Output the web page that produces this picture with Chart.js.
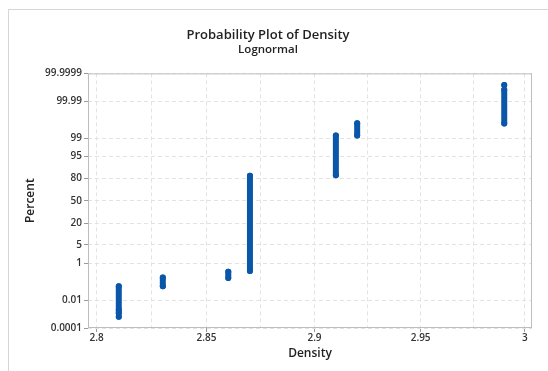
<!DOCTYPE html>
<html>
<head>
<meta charset="utf-8">
<script src="https://cdn.jsdelivr.net/npm/chart.js@4"></script>
<style>
  body { margin: 0; background: #fff; }
  #frame { position: absolute; left: 8px; top: 9px; width: 620px; height: 420px; border: 1px solid #d6d6d6; }
  #chart { position: absolute; left: 0; top: 0; }
</style>
</head>
<body>
<div id="frame"></div>
<canvas id="chart" width="548" height="371"></canvas>
<script>
// percent axis ticks (probability scale) and density ticks (log scale)
const percentTicks = [0.0001, 0.01, 1, 5, 20, 50, 80, 95, 99, 99.99, 99.9999];
const densityTicks = [2.8, 2.85, 2.9, 2.95, 3];
const densityMinor = [2.825, 2.875, 2.925, 2.975];

// each density value has a run of tied observations; percents read off the plot
// (null = small break between a lone end dot and the run)
const densityLevels = [2.81, 2.83, 2.86, 2.87, 2.91, 2.92, 2.99];
const run281 = [0.00075, null, 0.0013, 0.0022, 0.071];
const run283 = [0.071, 0.205];
const run286 = [0.193, 0.40];
const run287 = [0.43, 82.4];
const run291 = [82.9, 99.25];
const run292 = [99.25, 99.81];
const run299 = [99.80, 99.9983, null, 99.99922];
const percentRuns = [run281, run283, run286, run287, run291, run292, run299];

const blue = "#0a56a8";

// inverse normal cdf (Acklam) -> position on the probability axis
function normInv(p) {
    const a = [-39.69683028665376, 220.9460984245205, -275.9285104469687, 138.3577518672690, -30.66479806614716, 2.506628277459239];
    const b = [-54.47609879822406, 161.5858368580409, -155.6989798598866, 66.80131188771972, -13.28068155288572];
    const c = [-0.007784894002430293, -0.3223964580411365, -2.400758277161838, -2.549732539343734, 4.374664141464968, 2.938163982698783];
    const d = [0.007784695709041462, 0.3224671290700398, 2.445134137142996, 3.754408661907416];
    const pl = 0.02425;
    let q, r;
    if (p < pl) {
        q = Math.sqrt(-2 * Math.log(p));
        return (((((c[0]*q+c[1])*q+c[2])*q+c[3])*q+c[4])*q+c[5]) / ((((d[0]*q+d[1])*q+d[2])*q+d[3])*q+1);
    }
    if (p > 1 - pl) {
        q = Math.sqrt(-2 * Math.log(1 - p));
        return -(((((c[0]*q+c[1])*q+c[2])*q+c[3])*q+c[4])*q+c[5]) / ((((d[0]*q+d[1])*q+d[2])*q+d[3])*q+1);
    }
    q = p - 0.5;
    r = q * q;
    return (((((a[0]*r+a[1])*r+a[2])*r+a[3])*r+a[4])*r+a[5])*q / (((((b[0]*r+b[1])*r+b[2])*r+b[3])*r+b[4])*r+1);
}
const z = pct => pct == null ? null : normInv(pct / 100);

const datasets = densityLevels.map((dens, i) => ({
    data: percentRuns[i].map(p => ({ x: dens, y: z(p) })),
    showLine: true,
    spanGaps: false,
    borderColor: blue,
    borderWidth: 6,
    borderCapStyle: "round",
    pointRadius: 3,
    pointBorderWidth: 0,
    pointBackgroundColor: blue
}));

// kutu çerçevesi (plot alanının dört kenarı)
const boxPlugin = {
    id: "box",
    beforeDatasetsDraw(chart) {
        const { ctx, chartArea: a } = chart;
        ctx.save();
        ctx.strokeStyle = "#bdbdbd";
        ctx.lineWidth = 1;
        ctx.strokeRect(a.left + 0.5, a.top + 0.5, a.right - a.left - 1, a.bottom - a.top - 1);
        ctx.restore();
    }
};

const FONT = "'Open Sans', 'Noto Sans', sans-serif";
const zTop = z(99.9999);

new Chart(document.getElementById("chart"), {
    type: "scatter",
    data: { datasets },
    plugins: [boxPlugin],
    options: {
        responsive: false,
        animation: false,
        devicePixelRatio: 1,
        layout: { padding: { left: 4, right: 16, top: 0, bottom: 0 } },
        plugins: {
            legend: { display: false },
            tooltip: { enabled: false },
            title: {
                display: true,
                text: "Probability Plot of Density",
                color: "#222",
                font: { family: FONT, size: 13, weight: "600" },
                padding: { top: 27, bottom: 0 }
            },
            subtitle: {
                display: true,
                text: "Lognormal",
                color: "#222",
                font: { family: FONT, size: 11.5, weight: "600" },
                padding: { top: 0, bottom: 17 }
            }
        },
        scales: {
            x: {
                type: "logarithmic",
                min: 2.7961,
                max: 3.0034,
                afterBuildTicks: s => {
                    s.ticks = [...densityTicks, ...densityMinor].sort((p, q) => p - q).map(v => ({ value: v }));
                },
                ticks: {
                    color: "#333",
                    font: { family: FONT, size: 10, weight: "600" },
                    padding: 0,
                    maxRotation: 0,
                    autoSkip: false,
                    callback: v => densityTicks.includes(v) ? String(v) : ""
                },
                grid: {
                    color: "#e3e3e3",
                    tickLength: 4,
                    tickColor: c => (c.tick && densityTicks.includes(c.tick.value)) ? "#9a9a9a" : "rgba(0,0,0,0)"
                },
                border: { display: false, dash: [4, 3] },
                title: {
                    display: true,
                    text: "Density",
                    color: "#222",
                    font: { family: FONT, size: 12, weight: "600" },
                    padding: { top: 0, bottom: 10 }
                },
                afterFit: s => { s.height = 43; }
            },
            y: {
                type: "linear",
                min: -zTop,
                max: zTop,
                afterBuildTicks: s => {
                    s.ticks = percentTicks.map(p => ({ value: z(p) }));
                },
                ticks: {
                    color: "#333",
                    font: { family: FONT, size: 10, weight: "600" },
                    padding: 2,
                    autoSkip: false,
                    callback: (v, i) => String(percentTicks[i])
                },
                grid: {
                    color: "#e3e3e3",
                    tickLength: 4,
                    tickColor: "#9a9a9a"
                },
                border: { display: false, dash: [4, 3] },
                title: {
                    display: true,
                    text: "Percent",
                    color: "#222",
                    font: { family: FONT, size: 12, weight: "600" },
                    padding: { top: 19, bottom: 0 }
                },
                afterFit: s => { s.width = 84; }
            }
        }
    }
});
</script>
</body>
</html>
